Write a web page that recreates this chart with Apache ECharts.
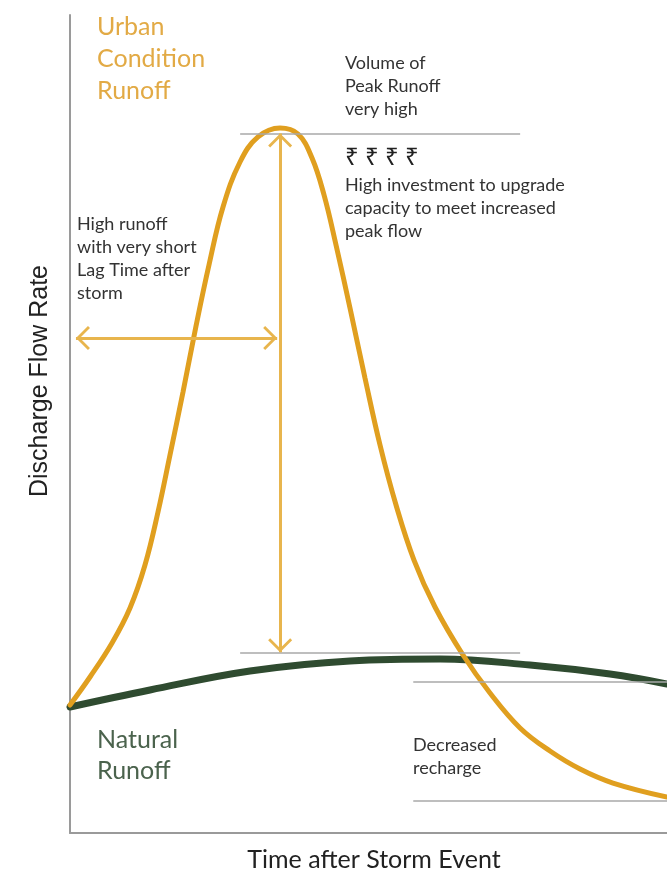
<!DOCTYPE html>
<html>
<head>
<meta charset="utf-8">
<script src="https://cdn.jsdelivr.net/npm/echarts@6/dist/echarts.min.js"></script>
<style>
	html, body { margin: 0; padding: 0; background: #fff; }
	#chart { width: 667px; height: 871px; }
</style>
</head>
<body>
<div id="chart"></div>
<script>
// 城市径流曲线 (time, discharge)
var urbanRunoff = [
	[0, 15.65], [3.35, 19.07], [7.04, 23.23], [10.05, 27.51], [12.56, 32.76], [14.74, 39.24],
	[16.75, 46.21], [18.93, 53.91], [21.11, 61.98], [23.28, 69.44], [25.63, 76.53], [28.48, 82.03],
	[31.49, 85.09], [35.18, 86.19], [38.19, 85.45], [40.54, 82.52], [42.55, 78.00], [44.56, 71.88],
	[46.90, 64.18], [49.41, 55.62], [51.93, 47.43], [54.61, 40.10], [57.62, 33.37], [61.14, 27.63],
	[65.83, 21.76], [70.35, 17.11], [75.38, 12.84], [80.40, 10.02], [85.43, 7.82], [90.95, 6.11], [100, 4.40]
]
// 自然径流
var naturalRunoff = [
	[0, 15.40], [13.40, 17.48], [30.15, 19.80], [46.90, 21.03], [61.98, 21.27],
	[77.05, 20.54], [90.45, 19.44], [100, 18.22]
]
// 参考线 [x1, x2, y]
var peakLines = [[28.5, 75.4, 85.5], [28.5, 75.4, 22.0]]
var rechargeLines = [[57.5, 100, 18.5], [57.5, 100, 4.0]]
// 箭头
var peakArrow = [[35.2, 85.5], [35.2, 22.1]]
var lagArrow = [[1.0, 60.5], [34.7, 60.5]]

var urbanLabel = ['Urban', 'Condition', 'Runoff']
var naturalLabel = ['Natural', 'Runoff']
var peakNote = ['Volume of', 'Peak Runoff', 'very high']
var costNote = ['High investment to upgrade', 'capacity to meet increased', 'peak flow']
var lagNote = ['High runoff', 'with very short', 'Lag Time after', 'storm']
var rechargeNote = ['Decreased', 'recharge']

var gold = '#e09f1f'
var arrowGold = '#e8b54d'
var green = '#2f4b30'
var grey = '#a8a8a8'
var font = 'Lato, "Noto Sans", sans-serif'
// 开口箭头 (上方留空, 让尖端落在端点上)
var chevron = 'path://M12,0 L12.02,0 L12,0.02 Z M0,26 L12,14 L24,26 L22,28 L12,18 L2,28 Z'

function refLine(r) {
	return [{ coord: [r[0], r[2]] }, { coord: [r[1], r[2]] }]
}

function textBlock(lines, x, top, size, lh, color) {
	return {
		type: 'text',
		z: 100,
		style: {
			text: lines.join('\n'),
			x: x, y: top,
			font: size + 'px ' + font,
			lineHeight: lh,
			fill: color,
			verticalAlign: 'top'
		}
	}
}

var myChart = echarts.init(document.getElementById('chart'))
myChart.setOption({
	animation: false,
	grid: { left: 70, right: 0, top: 15, bottom: 38, outerBoundsMode: 'none' },
	xAxis: {
		type: 'value', min: 0, max: 100,
		name: 'Time after Storm Event',
		nameLocation: 'middle', nameGap: 14,
		nameTextStyle: { fontSize: 25, color: '#222', fontFamily: font, padding: [0, 0, 0, 11] },
		axisLine: { show: true, onZero: false, lineStyle: { color: '#9a9a9a', width: 2 } },
		axisTick: { show: false }, axisLabel: { show: false }, splitLine: { show: false }
	},
	yAxis: {
		type: 'value', min: 0, max: 100,
		axisLine: { show: true, onZero: false, lineStyle: { color: '#9a9a9a', width: 2 } },
		axisTick: { show: false }, axisLabel: { show: false }, splitLine: { show: false }
	},
	series: [
		{
			name: 'Natural Runoff',
			type: 'line',
			data: naturalRunoff,
			smooth: 0.4,
			showSymbol: false,
			z: 3,
			lineStyle: { color: green, width: 7, cap: 'round' }
		},
		{
			name: 'Urban Condition Runoff',
			type: 'line',
			data: urbanRunoff,
			smooth: 0.4,
			showSymbol: false,
			z: 4,
			lineStyle: { color: gold, width: 5, cap: 'round' },
			markLine: {
				silent: true,
				symbol: 'none',
				label: { show: false },
				lineStyle: { color: grey, width: 1.5, type: 'solid' },
				data: peakLines.map(refLine).concat(rechargeLines.map(refLine))
			}
		},
		{
			name: 'arrows',
			type: 'line',
			data: [],
			z: 5,
			markLine: {
				silent: true,
				symbol: [chevron, chevron],
				symbolSize: [24, 28],
				label: { show: false },
				lineStyle: { color: arrowGold, width: 3, type: 'solid' },
				itemStyle: { color: arrowGold },
				data: [
					[{ coord: peakArrow[0] }, { coord: peakArrow[1] }],
					[{ coord: lagArrow[0] }, { coord: lagArrow[1] }]
				]
			}
		}
	],
	graphic: [
		{
			type: 'text', z: 100,
			x: 40, y: 381, rotation: Math.PI / 2,
			style: {
				text: 'Discharge Flow Rate',
				font: '25px "Liberation Sans", sans-serif',
				fill: '#222', align: 'center', verticalAlign: 'middle'
			}
		},
		textBlock(urbanLabel, 97, 11, 25, 32, '#e2aa45'),
		textBlock(naturalLabel, 97, 724, 25, 31, '#4b634d'),
		textBlock(peakNote, 345, 52, 18, 23, '#333'),
		{
			type: 'text', z: 100,
			style: { text: '₹ ₹ ₹ ₹', x: 345, y: 158, font: '24px "Noto Sans", "DejaVu Sans", sans-serif', fill: '#222', verticalAlign: 'middle' }
		},
		textBlock(costNote, 345, 174, 18, 23, '#333'),
		textBlock(lagNote, 77, 213, 18, 23, '#333'),
		textBlock(rechargeNote, 413, 734, 18, 23, '#333')
	]
})
</script>
</body>
</html>
